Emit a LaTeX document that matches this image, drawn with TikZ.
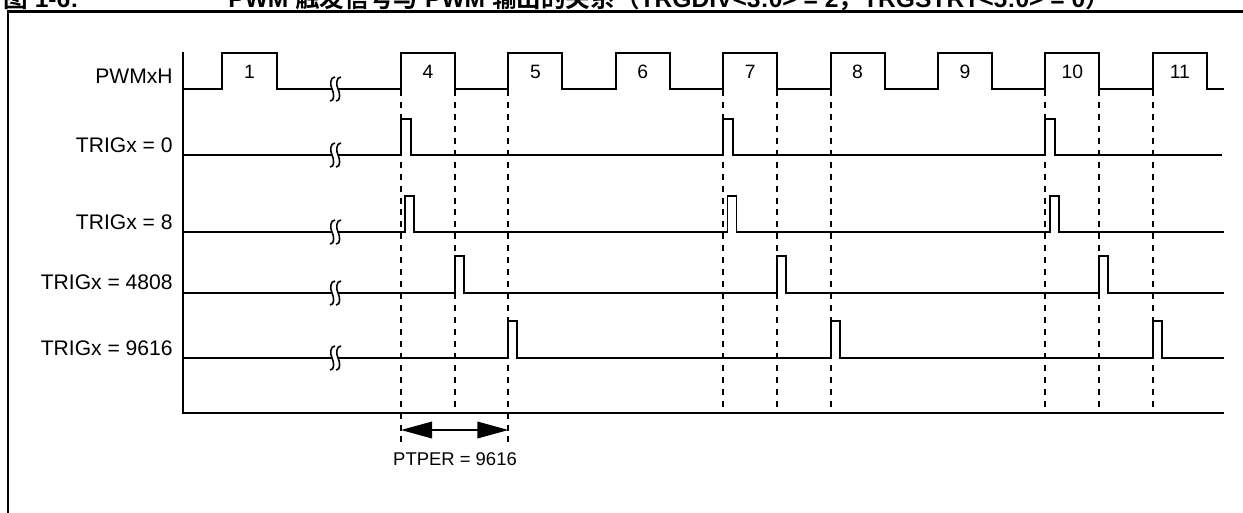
\documentclass[tikz,border=0pt]{standalone}
\usepackage{fontspec}
\setmainfont{Liberation Sans}
\newfontfamily\cjk{Noto Sans CJK SC}[BoldFont={Noto Sans CJK SC Bold}]
\usetikzlibrary{arrows.meta}
\begin{document}
\begin{tikzpicture}[x=0.02cm,y=-0.02cm,
  sig/.style={line width=1.1pt, line join=miter},
  guide/.style={line width=1.1pt, dash pattern=on 3.4pt off 3.4pt},
  lab/.style={anchor=east, inner sep=0pt, font=\fontsize{12}{14}\selectfont},
  num/.style={inner sep=0pt, font=\fontsize{11}{13}\selectfont},
  ttl/.style={anchor=base west, inner sep=0pt, font=\bfseries\fontsize{14}{16}\selectfont},
  brk/.pic={
    \fill[white] (-3,-2.5) rectangle (3,2.5);
    \draw[line width=0.9pt] (0,-12) .. controls (-5,-12) and (-5,-4) .. (-3,0) .. controls (-1,4) and (0,12) .. (-5,12);
    \draw[line width=0.9pt] (6,-12) .. controls (1,-12) and (1,-4) .. (3,0) .. controls (5,4) and (6,12) .. (1,12);
  }]
\useasboundingbox (0,0) rectangle (1243,512);

% frame
\draw[line width=1.6pt] (8,540) -- (8,11.5) -- (1260,11.5);

% title (cropped at the top in the original)
\node[ttl] (t1) at (3,7.5) {{\cjk\bfseries 图} 1-6:};
\node[ttl] (t2) at (228,7.5) {PWM {\cjk\bfseries 触发信号与} PWM {\cjk\bfseries 输出的关系（}TRGDIV<3:0> = 2{\cjk\bfseries ，}TRGSTRT<5:0> = 0{\cjk\bfseries ）}};

% axes
\draw[sig] (183,52) -- (183,413) -- (1224,413);

% guide lines
\foreach \x/\e/\n in {401/447/g1, 455/413/g2, 508.4/447/g3, 723.2/413/g4, 777.2/413/g5, 830.6/413/g6, 1045.4/413/g7, 1099.4/413/g8, 1152.8/413/g9}{
  \coordinate (\n a) at (\x,90);
  \coordinate (\n b) at (\x,\e);
  \draw[guide] (\n a) -- (\n b);
}

% PWMxH
\draw[sig] (183,89) -- (222,89) -- (222,53) -- (277,53) -- (277,89) -- (401,89)
  -- (401,53) -- (455,53) -- (455,89) -- (508.4,89)
  -- (508.4,53) -- (562.4,53) -- (562.4,89) -- (615.8,89)
  -- (615.8,53) -- (669.8,53) -- (669.8,89) -- (723.2,89)
  -- (723.2,53) -- (777.2,53) -- (777.2,89) -- (830.6,89)
  -- (830.6,53) -- (884.6,53) -- (884.6,89) -- (938,89)
  -- (938,53) -- (992,53) -- (992,89) -- (1045.4,89)
  -- (1045.4,53) -- (1099.4,53) -- (1099.4,89) -- (1152.8,89)
  -- (1152.8,53) -- (1206.8,53) -- (1206.8,89) -- (1224,89);

% TRIGx = 0
\draw[sig] (183,155) -- (401,155) -- (401,119) -- (411,119) -- (411,155)
  -- (723.2,155) -- (723.2,119) -- (733.2,119) -- (733.2,155)
  -- (1045.4,155) -- (1045.4,119) -- (1055.4,119) -- (1055.4,155) -- (1222,155);
% TRIGx = 8
\draw[sig] (183,232) -- (405,232) -- (405,196) -- (414,196) -- (414,232)
  -- (727.5,232) -- (727.5,196) -- (736.5,196) -- (736.5,232)
  -- (1050,232) -- (1050,196) -- (1059,196) -- (1059,232) -- (1224,232);
% TRIGx = 4808
\draw[sig] (183,293) -- (455,293) -- (455,256) -- (464,256) -- (464,293)
  -- (777.2,293) -- (777.2,256) -- (786.2,256) -- (786.2,293)
  -- (1099.4,293) -- (1099.4,256) -- (1108.4,256) -- (1108.4,293) -- (1224,293);
% TRIGx = 9616
\draw[sig] (183,358) -- (508.4,358) -- (508.4,321) -- (517.4,321) -- (517.4,358)
  -- (830.6,358) -- (830.6,321) -- (839.6,321) -- (839.6,358)
  -- (1152.8,358) -- (1152.8,321) -- (1161.8,321) -- (1161.8,358) -- (1224,358);

% break marks
\foreach \y in {89,155,232,293,358}{
  \pic at (335,\y) {brk};
}

% labels
\node[lab] (lPWM) at (173,76.5) {PWMxH};
\node[lab] (l0) at (173,145) {TRIGx = 0};
\node[lab] (l8) at (173,222) {TRIGx = 8};
\node[lab] (l4808) at (173,282) {TRIGx = 4808};
\node[lab] (l9616) at (173,348) {TRIGx = 9616};

% pulse numbers
\foreach \x/\t in {249.5/1, 428/4, 535.4/5, 642.8/6, 750.2/7, 857.6/8, 965/9, 1072.4/10, 1179.8/11}{
  \node[num] (n\t) at (\x,71.5) {\t};
}

% PTPER arrow
\coordinate (pa) at (401,430);
\coordinate (pb) at (508.4,430);
\draw[line width=1.1pt, {Triangle[length=0.62cm,width=0.33cm]}-{Triangle[length=0.62cm,width=0.33cm]}] (pa) -- (pb);
\node[inner sep=0pt, font=\fontsize{10.5}{12}\selectfont] (ptper) at (455,459) {PTPER = 9616};
\end{tikzpicture}
\end{document}
